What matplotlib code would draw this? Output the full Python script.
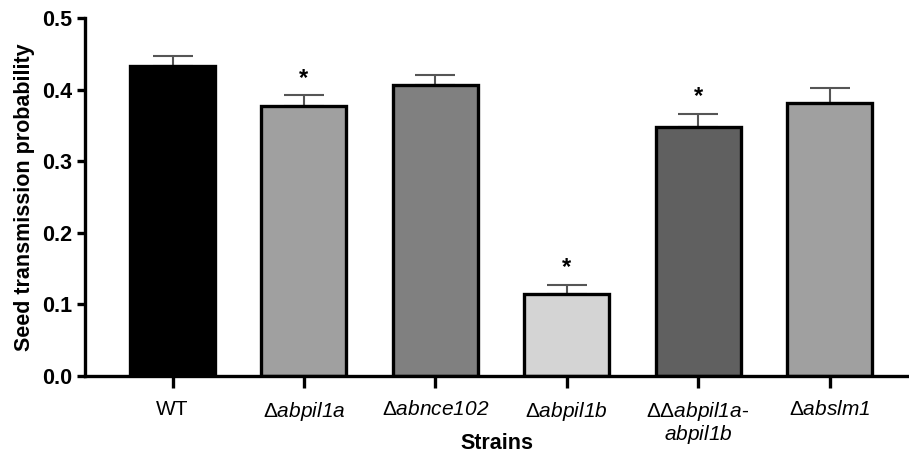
import matplotlib
matplotlib.use('Agg')
import matplotlib.pyplot as plt

plt.rcParams['font.family'] = ['Liberation Sans', 'DejaVu Sans']
plt.rcParams['mathtext.fontset'] = 'custom'
plt.rcParams['mathtext.rm'] = 'Liberation Sans'
plt.rcParams['mathtext.sf'] = 'Liberation Sans:italic'

# Data
strains = ['WT', r'$\Delta\mathsf{abpil1a}$', r'$\Delta\mathsf{abnce102}$',
           r'$\Delta\mathsf{abpil1b}$', r'$\Delta\Delta\mathsf{abpil1a}$-' + '\n' + r'$\mathsf{abpil1b}$',
           r'$\Delta\mathsf{abslm1}$']
means = [0.433, 0.377, 0.407, 0.115, 0.348, 0.381]
errors = [0.014, 0.015, 0.013, 0.012, 0.018, 0.021]
significant = [False, True, False, True, True, False]
colors = ['#000000', '#a0a0a0', '#808080', '#d4d4d4', '#606060', '#a0a0a0']

fig = plt.figure(figsize=(9.09, 4.54), dpi=100)
ax = fig.add_axes([0.0935, 0.1718, 0.9065, 0.7885])

x = range(len(strains))
ax.bar(x, means, width=0.647, color=colors, edgecolor='black', linewidth=2.4, zorder=2)
ax.errorbar(x, means, yerr=[[0] * len(errors), errors], fmt='none',
            ecolor='#555555', elinewidth=1.5, capsize=14.5, capthick=1.5, zorder=1)

for i, (m, e, s) in enumerate(zip(means, errors, significant)):
    if s:
        ax.text(i, m + e + 0.008, '*', ha='center', va='bottom', fontsize=17, fontweight='bold')

ax.set_xlim(-0.666, 5.605)
ax.set_ylim(0, 0.5)
ax.set_yticks([0.0, 0.1, 0.2, 0.3, 0.4, 0.5])
ax.set_yticklabels(['0.0', '0.1', '0.2', '0.3', '0.4', '0.5'], fontweight='bold', fontsize=15.5)
ax.set_xticks(list(x))
ax.set_xticklabels(strains, fontsize=15, va='top', linespacing=1.0)

ax.spines['top'].set_visible(False)
ax.spines['right'].set_visible(False)
ax.spines['left'].set_linewidth(2.4)
ax.spines['bottom'].set_linewidth(2.4)
ax.tick_params(axis='y', width=2.4, length=6, pad=3)
ax.tick_params(axis='x', width=2.4, length=8.6, pad=9)

ax.set_ylabel('Seed transmission probability', fontsize=15.5, fontweight='bold', labelpad=5)
ax.set_xlabel('Strains', fontsize=15.5, fontweight='bold')
ax.xaxis.set_label_coords(0.5, -0.160)

fig.savefig('out.png', dpi=100)
